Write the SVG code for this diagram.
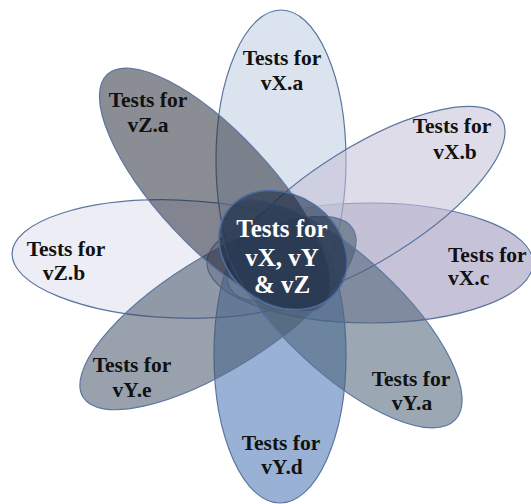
<svg xmlns="http://www.w3.org/2000/svg" width="531" height="504" viewBox="0 0 531 504">
<style>
.p{stroke:#5a76a0;stroke-width:1.2;fill-opacity:0.55}
text{font-family:'Liberation Serif','DejaVu Serif',serif;font-weight:bold;text-anchor:middle}
.t{font-size:21.5px;fill:#111}
.c{font-size:25px;fill:#fff}
</style>
<rect width="531" height="504" fill="#fff"/>
<g id="vZb">
<ellipse class="p" cx="177" cy="259" rx="165" ry="59" fill="#dedeed" transform="rotate(2 177 259)"/>
<text class="t" x="66" y="256" font-family="Liberation Serif, serif">Tests for</text><text class="t" x="64" y="280" font-family="Liberation Serif, serif">vZ.b</text>
</g>
<g id="vXc">
<ellipse class="p" cx="370" cy="263" rx="163" ry="60" fill="#9790b8"/>
<text class="t" x="448" y="262" style="text-anchor:start" font-family="Liberation Serif, serif">Tests for</text><text class="t" x="448" y="285" style="text-anchor:start" font-family="Liberation Serif, serif">vX.c</text>
</g>
<g id="vXa">
<ellipse class="p" cx="281" cy="160" rx="65" ry="150" fill="#becce2"/>
<text class="t" x="282" y="65" font-family="Liberation Serif, serif">Tests for</text><text class="t" x="282" y="90" font-family="Liberation Serif, serif">vX.a</text>
</g>
<g id="vYd">
<ellipse class="p" cx="280" cy="355" rx="66" ry="148" fill="#4471b1"/>
<text class="t" x="281" y="450" font-family="Liberation Serif, serif">Tests for</text><text class="t" x="282" y="474" font-family="Liberation Serif, serif">vY.d</text>
</g>
<g id="vXb">
<ellipse class="p" cx="366" cy="204" rx="160" ry="57" fill="#c3bfd5" transform="rotate(-32 366 204)"/>
<text class="t" x="452" y="133" font-family="Liberation Serif, serif">Tests for</text><text class="t" x="455" y="159" font-family="Liberation Serif, serif">vX.b</text>
</g>
<g id="vYe">
<ellipse class="p" cx="218" cy="313" rx="159" ry="56" fill="#445468" transform="rotate(-32 218 313)"/>
<text class="t" x="132" y="372" font-family="Liberation Serif, serif">Tests for</text><text class="t" x="132" y="397" font-family="Liberation Serif, serif">vY.e</text>
</g>
<g id="vZa">
<ellipse class="p" cx="215" cy="190" rx="158" ry="57" fill="#2a303b" transform="rotate(47 215 190)"/>
<text class="t" x="148" y="107" font-family="Liberation Serif, serif">Tests for</text><text class="t" x="148" y="132" font-family="Liberation Serif, serif">vZ.a</text>
</g>
<g id="vYa">
<ellipse class="p" cx="342" cy="314" rx="155" ry="58" fill="#495f73" transform="rotate(43 342 314)"/>
<text class="t" x="411" y="386" font-family="Liberation Serif, serif">Tests for</text><text class="t" x="412" y="410" font-family="Liberation Serif, serif">vY.a</text>
</g>
<g id="center">
<ellipse cx="283" cy="250" rx="68" ry="55" fill="#142440" fill-opacity="0.55" stroke="#4f6fa0" stroke-width="1.5" transform="rotate(35 283 250)"/>
<text class="c" x="282" y="237" font-family="Liberation Serif, serif">Tests for</text><text class="c" x="282" y="266" font-family="Liberation Serif, serif">vX, vY</text><text class="c" x="282" y="293" font-family="Liberation Serif, serif">&amp; vZ</text>
</g>
<g id="connectors"/>
</svg>
